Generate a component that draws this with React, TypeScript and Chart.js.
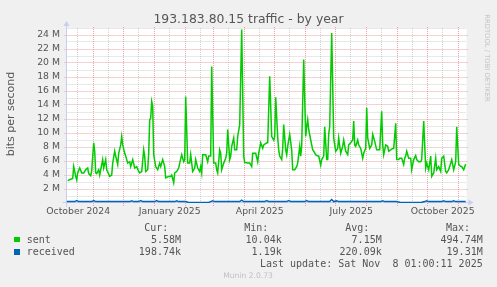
import { useEffect, useRef } from 'react';
import { Chart, registerables } from 'chart.js';

Chart.register(...registerables);

// x values are days since 2024-10-01, y values in Mbit/s
const sentDay = [5, 8, 10, 11, 13, 14, 15, 17, 19, 21, 23, 25, 26, 28, 29, 31, 32, 33, 34, 36, 37, 40, 41, 43, 44, 47, 49, 50, 52, 53, 55, 56, 58, 59, 60, 62, 63, 65, 67, 68, 70, 72, 74, 76, 77, 79, 81, 82, 83, 85, 86, 87, 88, 89, 90, 91, 93, 95, 97, 98, 100, 102, 103, 106, 108, 109, 111, 112, 114, 116, 117, 119, 121, 122, 123, 125, 127, 128, 130, 132, 133, 135, 137, 138, 139, 140, 143, 145, 146, 148, 149, 151, 153, 154, 155, 157, 158, 159, 161, 163, 164, 165, 167, 168, 169, 171, 172, 174, 175, 177, 179, 181, 182, 185, 187, 189, 190, 193, 195, 196, 198, 200, 201, 204, 205, 207, 209, 211, 212, 213, 215, 216, 217, 219, 220, 221, 223, 224, 225, 226, 227, 229, 230, 232, 234, 235, 237, 238, 239, 241, 243, 244, 245, 246, 248, 250, 251, 253, 255, 256, 258, 259, 261, 262, 264, 265, 266, 267, 269, 271, 273, 275, 276, 278, 280, 281, 283, 285, 286, 288, 290, 291, 292, 293, 295, 296, 298, 300, 301, 303, 304, 305, 307, 309, 310, 312, 314, 316, 317, 319, 320, 321, 323, 325, 326, 328, 330, 331, 333, 334, 336, 337, 339, 341, 342, 343, 344, 346, 348, 349, 351, 353, 354, 356, 358, 359, 361, 363, 364, 366, 368, 369, 371, 373, 374, 376, 378, 379, 381, 383, 384, 386, 388, 389, 391, 393, 394, 396, 398, 399, 401, 403];
const sentMbps = [3.2, 3.4, 3.5, 5.2, 3.8, 3.3, 4.3, 5.0, 4.3, 4.3, 4.75, 5.0, 4.2, 3.9, 4.6, 8.6, 7.4, 4.3, 4.2, 4.75, 4.0, 6.2, 5.0, 6.2, 4.75, 3.8, 4.0, 5.7, 7.4, 6.7, 5.5, 7.1, 8.3, 9.5, 8.3, 7.1, 6.7, 5.7, 5.9, 5.2, 6.2, 5.0, 5.2, 4.5, 4.3, 4.5, 7.6, 6.7, 4.5, 4.75, 7.1, 11.9, 12.1, 14.5, 13.8, 6.9, 5.2, 4.75, 5.7, 5.2, 6.2, 5.2, 3.6, 3.8, 3.8, 4.0, 2.9, 4.3, 4.5, 5.0, 5.7, 6.9, 5.9, 6.2, 15.2, 5.7, 5.7, 6.9, 4.5, 5.0, 6.2, 5.0, 4.5, 5.2, 4.3, 6.9, 6.9, 5.9, 6.7, 6.7, 19.5, 5.7, 5.7, 4.75, 4.3, 7.6, 7.1, 4.75, 5.7, 6.4, 7.1, 10.5, 6.2, 6.7, 8.1, 9.3, 7.6, 7.6, 9.5, 11.2, 24.8, 6.7, 5.8, 5.7, 5.7, 5.2, 7.1, 7.1, 5.9, 7.1, 8.6, 7.8, 8.3, 8.6, 8.6, 18.1, 9.5, 9.0, 9.5, 15.1, 9.4, 7.6, 6.7, 6.2, 7.8, 11.2, 7.6, 6.9, 8.1, 9.0, 9.8, 7.6, 4.75, 4.75, 5.2, 5.7, 8.1, 6.7, 8.2, 20.5, 9.5, 10.9, 11.9, 10.5, 9.0, 7.6, 7.4, 6.9, 6.7, 6.7, 5.4, 6.2, 6.7, 10.9, 6.2, 6.2, 9.8, 10.9, 24.3, 9.3, 7.4, 7.8, 9.3, 7.1, 8.1, 9.0, 7.4, 6.9, 8.3, 8.6, 9.0, 11.7, 8.3, 8.1, 9.0, 8.3, 7.8, 6.4, 7.1, 7.8, 13.6, 9.3, 7.8, 8.3, 9.8, 8.8, 7.6, 7.6, 7.6, 13.1, 8.3, 6.9, 8.3, 8.1, 7.4, 7.6, 7.8, 7.8, 11.4, 6.2, 6.2, 6.4, 6.4, 5.5, 6.4, 6.7, 7.4, 6.4, 6.4, 4.75, 6.2, 6.8, 6.2, 5.9, 5.9, 6.2, 11.7, 5.0, 5.7, 4.75, 6.7, 3.8, 4.3, 6.4, 4.75, 5.2, 4.5, 6.4, 6.7, 4.5, 4.3, 4.75, 5.7, 6.2, 4.75, 5.9, 10.9, 5.5, 5.2, 5.2, 4.75, 5.58];

const recvDay = [4, 12, 14, 16, 29, 31, 33, 50, 67, 69, 71, 76, 78, 80, 92, 94, 96, 112, 114, 116, 123, 126, 136, 146, 148, 150, 152, 165, 177, 179, 181, 202, 204, 206, 224, 226, 228, 242, 244, 246, 258, 267, 269, 271, 274, 276, 300, 318, 320, 322, 334, 337, 348, 359, 362, 364, 366, 379, 381, 383, 389, 391, 393, 401, 403];
const recvMbps = [0.2, 0.2, 0.35, 0.2, 0.2, 0.35, 0.2, 0.2, 0.2, 0.3, 0.2, 0.2, 0.35, 0.2, 0.2, 0.35, 0.2, 0.2, 0.3, 0.2, 0.2, 0.08, 0.06, 0.08, 0.2, 0.3, 0.2, 0.2, 0.2, 0.4, 0.2, 0.2, 0.35, 0.2, 0.2, 0.35, 0.2, 0.2, 0.35, 0.2, 0.2, 0.2, 0.5, 0.2, 0.3, 0.2, 0.2, 0.2, 0.3, 0.2, 0.2, 0.1, 0.08, 0.1, 0.2, 0.3, 0.2, 0.2, 0.3, 0.2, 0.2, 0.3, 0.2, 0.2, 0.2];

const yTicks = [2, 4, 6, 8, 10, 12, 14, 16, 18, 20, 22, 24];
const xLabelDay = [15.5, 107, 197, 288.5, 380];
const xLabels = ['October 2024', 'January 2025', 'April 2025', 'July 2025', 'October 2025'];

const legendNames = ['sent', 'received'];
const legendColors = ['#00CC00', '#0066B3'];
const legendHeaders = ['Cur:', 'Min:', 'Avg:', 'Max:'];
const legendValues = [
  ['5.58M', '10.04k', '7.15M', '494.74M'],
  ['198.74k', '1.19k', '220.09k', '19.31M'],
];

const T0 = Date.UTC(2024, 9, 1);
const dayOf = (y: number, m: number, d: number) => (Date.UTC(y, m, d) - T0) / 86400000;

const MAJOR = 'rgba(222,79,79,0.5)';
const MINOR = 'rgba(140,140,140,0.38)';
const AXIS = '#C8CEF0';

const rrdPlugin = {
  id: 'rrd',
  beforeDraw(chart: any) {
    const { ctx, chartArea: a } = chart;
    ctx.save();
    ctx.fillStyle = '#ffffff';
    ctx.fillRect(a.left, a.top, a.right - a.left, a.bottom - a.top);
    ctx.restore();
  },
  beforeDatasetsDraw(chart: any) {
    const { ctx, chartArea: a, scales } = chart;
    const x = scales.x;
    const y = scales.y;
    ctx.save();
    ctx.lineWidth = 1;
    ctx.setLineDash([1, 1]);
    for (let v = 1; v <= 25; v++) {
      const py = Math.floor(y.getPixelForValue(v)) + 0.5;
      const major = v % 2 === 0;
      ctx.strokeStyle = major ? MAJOR : MINOR;
      ctx.beginPath();
      ctx.moveTo(a.left + (major ? -2 : 0), py);
      ctx.lineTo(a.right + (major ? 2 : 0), py);
      ctx.stroke();
    }
    for (let k = 0; k < 15; k++) {
      const yr = 2024 + Math.floor((9 + k) / 12);
      const mo = (9 + k) % 12;
      const start = dayOf(yr, mo, 1);
      const mid = dayOf(yr, mo, 15) + 0.5;
      if (mid > x.min && mid < x.max) {
        const px = Math.floor(x.getPixelForValue(mid)) + 0.5;
        ctx.strokeStyle = MINOR;
        ctx.beginPath();
        ctx.moveTo(px, a.bottom);
        ctx.lineTo(px, a.top);
        ctx.stroke();
      }
      if (start > x.min && start < x.max) {
        const px = Math.floor(x.getPixelForValue(start)) + 0.5;
        ctx.strokeStyle = MAJOR;
        ctx.beginPath();
        ctx.moveTo(px, a.bottom + 3);
        ctx.lineTo(px, a.top - 2);
        ctx.stroke();
      }
    }
    ctx.setLineDash([]);
    ctx.strokeStyle = AXIS;
    ctx.fillStyle = AXIS;
    const bx = Math.floor(a.left) + 0.5;
    const by = Math.floor(a.bottom) - 0.5;
    ctx.beginPath();
    ctx.moveTo(a.left - 4, by);
    ctx.lineTo(a.right + 4, by);
    ctx.moveTo(bx, a.bottom + 4);
    ctx.lineTo(bx, a.top - 4);
    ctx.stroke();
    ctx.beginPath();
    ctx.moveTo(a.right + 2, by - 3);
    ctx.lineTo(a.right + 2, by + 3);
    ctx.lineTo(a.right + 7, by);
    ctx.closePath();
    ctx.fill();
    ctx.beginPath();
    ctx.moveTo(bx - 3, a.top - 2);
    ctx.lineTo(bx + 3, a.top - 2);
    ctx.lineTo(bx, a.top - 7);
    ctx.closePath();
    ctx.fill();
    ctx.restore();
  },
};

type TxtProps = { x: number; cy: number; right?: boolean; size?: number; color?: string; mono?: boolean; children: any };
function Txt({ x, cy, right, size = 10, color = '#555', mono = true, children }: TxtProps) {
  const style: any = {
    position: 'absolute',
    top: cy - 0.48 * size,
    fontFamily: mono ? '"DejaVu Sans Mono", monospace' : '"DejaVu Sans", sans-serif',
    fontSize: size,
    lineHeight: 1,
    color,
    whiteSpace: 'pre',
  };
  if (right) style.right = 497 - x;
  else style.left = x;
  return <div style={style}>{children}</div>;
}

export default function App() {
  const ref = useRef<HTMLCanvasElement | null>(null);

  useEffect(() => {
    if (!ref.current) return;
    const tickFont = { family: '"DejaVu Sans", sans-serif', size: 9.3 };
    const chart = new Chart(ref.current, {
      type: 'line',
      data: {
        datasets: [
          {
            label: 'received',
            data: recvDay.map((d, i) => ({ x: d, y: recvMbps[i] })),
            borderColor: legendColors[1],
            borderWidth: 1.5,
            pointRadius: 0,
            tension: 0,
            fill: false,
          },
          {
            label: 'sent',
            data: sentDay.map((d, i) => ({ x: d, y: sentMbps[i] })),
            borderColor: legendColors[0],
            borderWidth: 1.5,
            pointRadius: 0,
            tension: 0,
            fill: false,
          },
        ],
      },
      options: {
        responsive: false,
        animation: false,
        events: [],
        layout: { padding: { left: 0, right: 30.5, top: 28, bottom: 64 } },
        plugins: { legend: { display: false }, tooltip: { enabled: false }, title: { display: false } },
        scales: {
          x: {
            type: 'linear',
            min: 3.8,
            max: 403.8,
            grid: { display: false, drawTicks: false },
            border: { display: false },
            afterBuildTicks: (s: any) => {
              s.ticks = xLabelDay.map((v) => ({ value: v }));
            },
            afterFit: (s: any) => {
              s.height = 20;
              s.paddingLeft = 0;
              s.paddingRight = 0;
            },
            ticks: {
              autoSkip: false,
              maxRotation: 0,
              minRotation: 0,
              padding: 3.4,
              font: tickFont,
              color: '#555',
              callback: (_v: any, i: number) => xLabels[i],
            },
          },
          y: {
            type: 'linear',
            min: 0,
            max: 25,
            grid: { display: false, drawTicks: false },
            border: { display: false },
            afterBuildTicks: (s: any) => {
              s.ticks = yTicks.map((v) => ({ value: v }));
            },
            afterFit: (s: any) => {
              s.width = 66.5;
              s.paddingTop = 0;
              s.paddingBottom = 0;
            },
            ticks: {
              padding: 6.5,
              font: tickFont,
              color: '#555',
              callback: (v: any) => `${v} M`,
            },
          },
        },
      },
      plugins: [rrdPlugin],
    } as any);
    return () => chart.destroy();
  }, []);

  return (
    <div style={{ position: 'fixed', left: 0, top: 0, width: 497, height: 287, background: '#f0f0f0', overflow: 'hidden' }}>
      <canvas ref={ref} width={497} height={287} style={{ position: 'absolute', left: 0, top: 0, width: 497, height: 287 }} />
      <div
        style={{
          position: 'absolute', left: 0, top: 18.8 - 0.48 * 12.4, width: 497, textAlign: 'center',
          fontFamily: '"DejaVu Sans", sans-serif', fontSize: 12.4, lineHeight: 1, color: '#555', whiteSpace: 'pre',
        }}
      >
        193.183.80.15 traffic - by year
      </div>
      <div
        style={{
          position: 'absolute', left: 11 - 60, top: 114 - 6, width: 120, height: 12, textAlign: 'center',
          transform: 'rotate(-90deg)', transformOrigin: '50% 50%',
          fontFamily: '"DejaVu Sans", sans-serif', fontSize: 11, lineHeight: '12px', color: '#555', whiteSpace: 'pre',
        }}
      >
        bits per second
      </div>
      <div
        style={{
          position: 'absolute', left: 487 - 50, top: 57.5 - 4, width: 100, height: 8, textAlign: 'center',
          transform: 'rotate(90deg)', transformOrigin: '50% 50%',
          fontFamily: '"DejaVu Sans", sans-serif', fontSize: 6.8, lineHeight: '8px', color: '#c4c4c4', whiteSpace: 'pre',
        }}
      >
        RRDTOOL / TOBI OETIKER
      </div>
      {legendHeaders.map((h, i) => (
        <Txt key={h} x={[168.3, 268.3, 369.3, 470][i]} cy={227.7} right>
          {h}
        </Txt>
      ))}
      {legendNames.map((n, r) => (
        <div key={n}>
          <div style={{ position: 'absolute', left: 14, top: [236.5, 249][r], width: 5.5, height: 5.5, background: legendColors[r] }} />
          <Txt x={26.7} cy={[239.3, 251.7][r]}>{n}</Txt>
          {legendValues[r].map((v, c) => (
            <Txt key={c} x={[181, 281.7, 381.7, 482.7][c]} cy={[239.3, 251.7][r]} right>
              {v}
            </Txt>
          ))}
        </div>
      ))}
      <Txt x={482.7} cy={263.7} right>
        {'Last update: Sat Nov  8 01:00:11 2025'}
      </Txt>
      <div
        style={{
          position: 'absolute', left: 0, top: 276 - 0.48 * 7.6, width: 496, textAlign: 'center',
          fontFamily: '"DejaVu Sans", sans-serif', fontSize: 7.6, lineHeight: 1, color: '#c0c0c0', whiteSpace: 'pre',
        }}
      >
        Munin 2.0.73
      </div>
    </div>
  );
}
